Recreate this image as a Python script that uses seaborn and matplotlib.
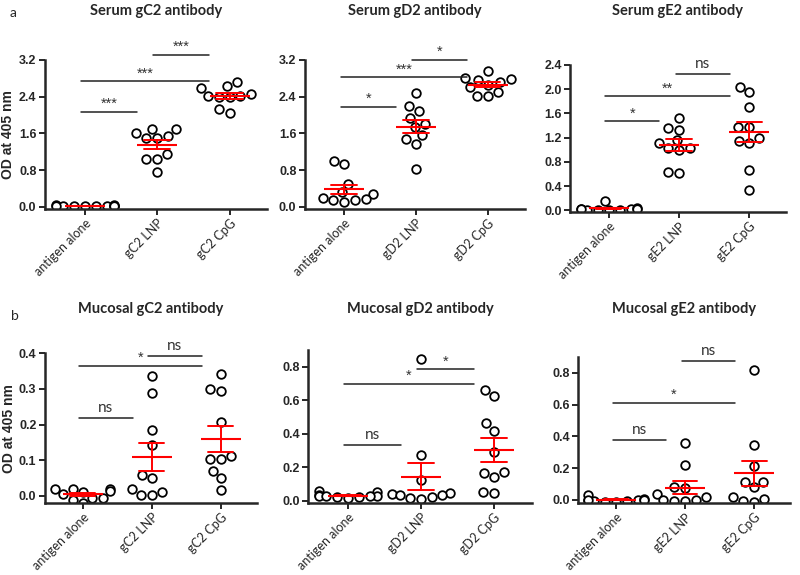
import warnings
import numpy as np
import pandas as pd
import matplotlib
matplotlib.use('Agg')
import matplotlib.pyplot as plt
import seaborn as sns

warnings.filterwarnings("ignore")

# Group names for each glycoprotein
groups_gC2 = ['antigen alone', 'gC2 LNP', 'gC2 CpG']
groups_gD2 = ['antigen alone', 'gD2 LNP', 'gD2 CpG']
groups_gE2 = ['antigen alone', 'gE2 LNP', 'gE2 CpG']

# Serum OD values (10 mice per group)
serum_gC2 = [
    [0.02, 0.01, 0.03, 0.02, 0.01, 0.04, 0.02, 0.03, 0.05, 0.02],
    [1.70, 1.70, 1.60, 1.55, 1.50, 1.50, 1.15, 1.05, 1.05, 0.75],
    [2.72, 2.62, 2.58, 2.42, 2.40, 2.42, 2.40, 2.12, 2.05, 2.45],
]
serum_gD2 = [
    [0.94, 1.00, 0.50, 0.32, 0.27, 0.20, 0.18, 0.16, 0.14, 0.10],
    [2.48, 2.19, 2.09, 1.94, 1.80, 1.73, 1.56, 1.47, 1.37, 0.83],
    [2.95, 2.80, 2.78, 2.75, 2.72, 2.65, 2.60, 2.50, 2.42, 2.42],
]
serum_gE2 = [
    [0.02, 0.01, 0.03, 0.00, 0.02, 0.04, 0.01, 0.00, 0.02, 0.16],
    [1.52, 1.33, 1.36, 1.16, 1.12, 1.03, 0.99, 1.03, 0.62, 0.64],
    [2.04, 1.96, 1.71, 1.38, 1.37, 1.20, 1.12, 1.14, 0.66, 0.33],
]

# Mucosal OD values
mucosal_gC2 = [
    [0.02, 0.02, 0.015, 0.02, 0.01, 0.005, -0.005, -0.005, -0.01, -0.02],
    [0.337, 0.288, 0.185, 0.144, 0.06, 0.05, 0.019, 0.011, 0.004, 0.002],
    [0.341, 0.294, 0.30, 0.206, 0.111, 0.103, 0.103, 0.069, 0.049, 0.018],
]
mucosal_gD2 = [
    [0.05, 0.055, 0.035, 0.03, 0.025, 0.02, 0.02, 0.025, 0.015, 0.025],
    [0.845, 0.27, 0.125, 0.046, 0.04, 0.036, 0.032, 0.022, 0.016, 0.01],
    [0.66, 0.625, 0.462, 0.419, 0.288, 0.165, 0.17, 0.139, 0.046, 0.05],
]
mucosal_gE2 = [
    [0.0, -0.005, 0.005, 0.0, -0.01, 0.0, -0.005, -0.01, 0.03, 0.0],
    [0.36, 0.218, 0.08, 0.075, 0.04, 0.02, 0.0, 0.0, -0.005, -0.005],
    [0.817, 0.343, 0.214, 0.114, 0.114, 0.079, 0.017, 0.006, -0.015, -0.008],
]

# Significance comparisons: (group i, group j, bar height, label)
sig_serum_gC2 = [(0, 1, 2.07, '***'), (0, 2, 2.73, '***'), (1, 2, 3.31, '***')]
sig_serum_gD2 = [(0, 1, 2.18, '*'), (0, 2, 2.82, '***'), (1, 2, 3.20, '*')]
sig_serum_gE2 = [(0, 1, 1.47, '*'), (0, 2, 1.88, '**'), (1, 2, 2.25, 'ns')]
sig_mucosal_gC2 = [(0, 1, 0.217, 'ns'), (0, 2, 0.364, '*'), (1, 2, 0.393, 'ns')]
sig_mucosal_gD2 = [(0, 1, 0.33, 'ns'), (0, 2, 0.70, '*'), (1, 2, 0.786, '*')]
sig_mucosal_gE2 = [(0, 1, 0.38, 'ns'), (0, 2, 0.613, '*'), (1, 2, 0.875, 'ns')]

serum_ticks_gC2 = [0.0, 0.8, 1.6, 2.4, 3.2]
serum_ticks_gE2 = [0.0, 0.4, 0.8, 1.2, 1.6, 2.0, 2.4]
mucosal_ticks_gC2 = [0.0, 0.1, 0.2, 0.3, 0.4]
mucosal_ticks_gDE = [0.0, 0.2, 0.4, 0.6, 0.8]

sns.set_style('ticks')
plt.rcParams['font.family'] = ['Lato', 'DejaVu Sans']


def dot_panel(ax, groups, values, sig, ticks, ylim, title, ylabel=None):
    d = pd.DataFrame({
        'group': np.repeat(groups, [len(v) for v in values]),
        'od': np.concatenate(values),
    })
    sns.swarmplot(data=d, x='group', y='od', order=groups, ax=ax, color='white',
                  edgecolor='black', linewidth=1.3, size=6.2, zorder=2)
    sns.pointplot(data=d, x='group', y='od', order=groups, ax=ax, errorbar='se',
                  color='red', linestyle='none', marker='_', markersize=29,
                  markeredgewidth=1.5, capsize=0.36, err_kws={'linewidth': 1.4},
                  zorder=3)
    span = ylim[1] - ylim[0]
    for i, j, h, lab in sig:
        ax.plot([i - 0.05, j - 0.28], [h, h], color='#222222', lw=1.1, clip_on=False)
        if lab == 'ns':
            ax.text((i + j - 0.33) / 2, h + span * 0.02, lab, ha='center', va='bottom',
                    fontsize=11, color='#333333')
        else:
            ax.text((i + j - 0.33) / 2, h + span * 0.005, lab, ha='center', va='bottom',
                    fontsize=10.5, color='#333333', family='Liberation Sans')
    ax.set_xlim(-0.55, 2.52)
    ax.set_ylim(*ylim)
    ax.set_yticks(ticks)
    ax.set_yticklabels([f'{t:.1f}' for t in ticks], fontsize=9, fontweight='bold',
                       family='Liberation Sans')
    ax.set_xticks(range(3))
    ax.set_xticklabels(groups, rotation=45, ha='right', rotation_mode='anchor', fontsize=9)
    ax.set_xlabel('')
    ax.set_ylabel(ylabel if ylabel else '', fontsize=10, fontweight='bold',
                  family='Liberation Sans')
    ax.yaxis.set_label_coords(-0.135, 0.5)
    ax.tick_params(width=1.4, length=4, pad=2)
    for s in ['left', 'bottom']:
        ax.spines[s].set_linewidth(1.8)
    sns.despine(ax=ax)
    box = ax.get_position()
    fig.text(box.x0 + box.width / 2, 0.98 if box.y0 > 0.5 else 0.463, title,
             ha='center', va='center', fontsize=10.5, fontweight='bold')


fig = plt.figure(figsize=(8, 5.75), dpi=100)
ax1 = fig.add_axes([0.056, 0.637, 0.278, 0.259])
ax2 = fig.add_axes([0.381, 0.637, 0.275, 0.259])
ax3 = fig.add_axes([0.7125, 0.631, 0.270, 0.256])
ax4 = fig.add_axes([0.056, 0.125, 0.265, 0.261])
ax5 = fig.add_axes([0.385, 0.125, 0.280, 0.266])
ax6 = fig.add_axes([0.7225, 0.125, 0.265, 0.254])

dot_panel(ax1, groups_gC2, serum_gC2, sig_serum_gC2, serum_ticks_gC2, (-0.04, 3.2),
          'Serum gC2 antibody', 'OD at 405 nm')
dot_panel(ax2, groups_gD2, serum_gD2, sig_serum_gD2, serum_ticks_gC2, (-0.04, 3.2),
          'Serum gD2 antibody')
dot_panel(ax3, groups_gE2, serum_gE2, sig_serum_gE2, serum_ticks_gE2, (-0.03, 2.4),
          'Serum gE2 antibody')
dot_panel(ax4, groups_gC2, mucosal_gC2, sig_mucosal_gC2, mucosal_ticks_gC2, (-0.02, 0.4),
          'Mucosal gC2 antibody', 'OD at 405 nm')
dot_panel(ax5, groups_gD2, mucosal_gD2, sig_mucosal_gD2, mucosal_ticks_gDE, (-0.015, 0.9),
          'Mucosal gD2 antibody')
dot_panel(ax6, groups_gE2, mucosal_gE2, sig_mucosal_gE2, mucosal_ticks_gDE, (-0.02, 0.9),
          'Mucosal gE2 antibody')

fig.text(0.012, 0.978, 'a', fontsize=10, va='center')
fig.text(0.014, 0.451, 'b', fontsize=10, va='center')

fig.savefig('out.png', dpi=100)
